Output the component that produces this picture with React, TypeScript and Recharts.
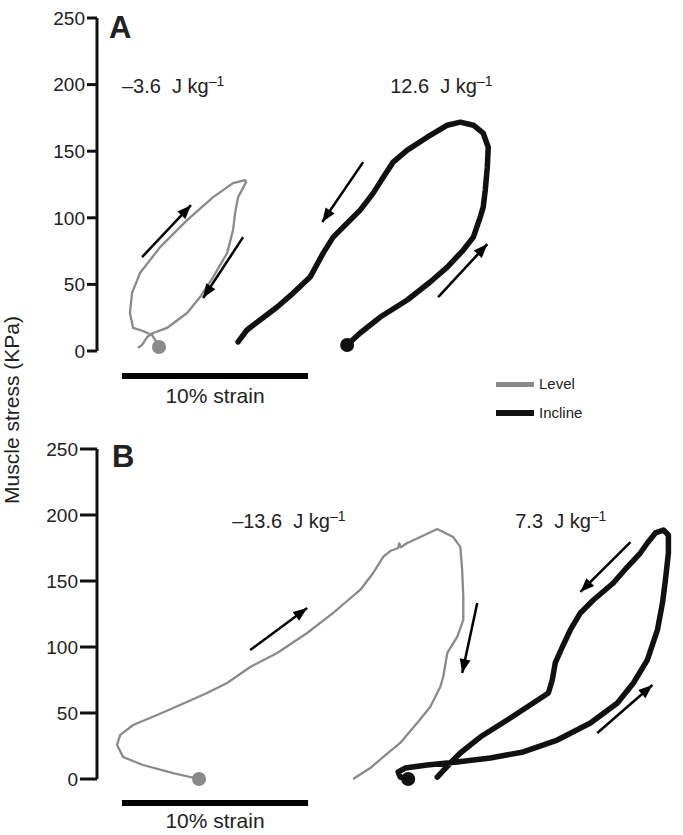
import React from 'react';
import { LineChart, Line, XAxis, YAxis, ReferenceLine, ReferenceDot } from 'recharts';

const font = '"Liberation Sans", Arial, Helvetica, sans-serif';
const levelColor = '#8a8a8a';
const inclineColor = '#111';

const yTicks = [0, 50, 100, 150, 200, 250];

// [strain %, stress kPa], traced from the start dot
const levelA = [
  [3.33, 3.0], [3.23, 6.0], [2.96, 12.0], [2.47, 15.0], [1.94, 17.3], [1.77, 28.5], [1.88, 43.5],
  [2.31, 58.5], [3.39, 78.0], [4.84, 98.3], [6.24, 115.5], [7.31, 126.0], [7.96, 128.3], [8.01, 126.8],
  [7.58, 115.5], [7.42, 103.5], [7.31, 90.8], [6.99, 73.5], [6.24, 55.5], [5.54, 40.5], [4.84, 28.5],
  [3.76, 17.3], [3.01, 13.5], [2.69, 10.5], [2.42, 4.5], [2.2, 2.3],
];

const inclineA = [
  [13.44, 4.5], [14.14, 13.5], [15.22, 25.5], [16.67, 38.3], [17.9, 51.8], [18.82, 63.0], [19.68, 75.8],
  [20.22, 85.5], [20.59, 100.5], [20.75, 108.0], [20.86, 120.8], [20.97, 138.0], [21.02, 153.0],
  [20.75, 163.5], [20.22, 169.5], [19.52, 171.8], [18.82, 169.5], [17.74, 160.5], [16.67, 150.8],
  [15.91, 141.8], [15.38, 130.5], [14.84, 118.5], [14.14, 105.8], [13.44, 96.0], [12.69, 85.5],
  [12.15, 73.5], [11.45, 55.5], [10.54, 43.5], [9.68, 33.0], [8.76, 23.3], [8.06, 15.8], [7.58, 6.8],
];

const levelB = [
  [5.48, 0], [4.09, 4.5], [2.47, 10.6], [1.4, 16.7], [1.08, 25.8], [1.24, 33.3], [1.94, 40.9],
  [3.23, 48.5], [4.46, 56.1], [5.91, 65.2], [6.99, 72.7], [8.23, 84.8], [9.68, 95.5], [11.29, 110.6],
  [12.69, 125.8], [13.06, 130.3], [14.14, 143.2], [14.84, 156.1], [15.38, 168.2], [15.75, 172.7],
  [16.18, 175.0], [16.24, 178.5], [16.32, 175.6], [16.67, 178.8], [17.37, 183.3], [18.28, 189.4],
  [19.14, 183.3], [19.52, 175.8], [19.62, 158.3], [19.68, 137.9], [19.68, 120.5], [19.35, 107.6],
  [18.82, 95.5], [18.6, 77.3], [18.44, 69.7], [17.9, 54.5], [17.2, 42.4], [16.29, 27.3], [15.38, 16.7],
  [14.68, 8.3], [13.76, 0],
];

const inclineB = [
  [16.72, 0], [16.29, 1.5], [16.18, 5.3], [16.56, 8.3], [17.74, 10.6], [19.35, 12.9], [21.13, 15.9],
  [22.9, 20.5], [24.73, 29.5], [26.51, 42.4], [27.96, 57.6], [28.82, 72.7], [29.57, 90.2], [30.11, 112.9],
  [30.38, 133.3], [30.54, 150.8], [30.7, 171.2], [30.7, 184.8], [30.43, 188.6], [30.0, 186.4],
  [29.57, 178.8], [29.19, 171.2], [28.49, 160.6], [27.74, 148.5], [26.67, 135.6], [25.97, 125.8],
  [25.43, 112.9], [25.0, 100.0], [24.62, 87.9], [24.46, 75.0], [24.25, 65.2], [23.44, 57.6],
  [22.04, 44.7], [20.59, 31.8], [19.52, 19.7], [18.98, 12.1], [18.28, 1.5],
];

// direction arrows: [tail, head]
const arrowsA = [
  [[2.42, 70.5], [5.05, 109.5]],
  [[7.85, 85.5], [5.7, 39.8]],
  [[14.3, 141.8], [12.1, 96.8]],
  [[18.33, 40.5], [20.97, 80.3]],
];
const arrowsB = [
  [[8.23, 97.7], [11.29, 129.5]],
  [[20.43, 133.3], [19.62, 80.3]],
  [[28.66, 179.5], [25.97, 141.7]],
  [[26.88, 34.8], [29.84, 71.2]],
];

const energyA = ['\u20133.6', '12.6'];
const energyAx = [1.34, 15.75];
const energyAy = 194;
const energyB = ['\u201313.6', '7.3'];
const energyBx = [7.26, 22.47];
const energyBy = 190;

const scaleBarX = [1.34, 11.34];
const scaleBarYA = -18.75;
const scaleBarYB = -18.2;

const legendItems = [
  { label: 'Level', color: levelColor, thick: 5 },
  { label: 'Incline', color: inclineColor, thick: 6 },
];

const toPts = (arr: number[][]) => arr.map(([x, y]) => ({ x, y }));

const ArrowHead = (props: any) => {
  const { cx, cy, index, points } = props;
  if (index !== 1 || !points) return <g key={`n-${index}`} />;
  const p0 = points[0];
  const ang = Math.atan2(cy - p0.y, cx - p0.x);
  const len = 14;
  const half = 5.5;
  const bx = cx - len * Math.cos(ang);
  const by = cy - len * Math.sin(ang);
  const nx = -Math.sin(ang) * half;
  const ny = Math.cos(ang) * half;
  return (
    <polygon
      key={`ah-${index}`}
      points={`${cx},${cy} ${bx + nx},${by + ny} ${bx - nx},${by - ny}`}
      fill="#000"
    />
  );
};

const EnergyText = ({ cx, cy, value }: any) => (
  <text x={cx} y={cy} fontSize={20} fill="#222" fontFamily={font}>
    {value}
    {'\u00a0\u00a0J kg'}
    <tspan dy={-7} fontSize={14}>{'\u20131'}</tspan>
  </text>
);

function Panel({
  level, incline, arrows, energy, energyX, energyY, barY, height, top, bottom, tickSize, barOffset,
}: any) {
  return (
    <LineChart width={683} height={height} margin={{ top, right: 9, bottom, left: 37 }}>
      <XAxis type="number" dataKey="x" domain={[0, 31]} hide />
      <YAxis
        type="number"
        domain={[0, 250]}
        ticks={yTicks}
        interval={0}
        width={60}
        tickSize={tickSize}
        axisLine={{ stroke: '#111', strokeWidth: 3 }}
        tickLine={{ stroke: '#111', strokeWidth: 3 }}
        tick={{ fontSize: 19, fill: '#222', fontFamily: font }}
      />
      <ReferenceLine
        segment={[{ x: scaleBarX[0], y: barY }, { x: scaleBarX[1], y: barY }]}
        stroke="#000"
        strokeWidth={6}
        ifOverflow="visible"
        label={{ value: '10% strain', position: 'bottom', offset: barOffset, fontSize: 21, fill: '#222', fontFamily: font }}
      />
      <Line data={toPts(level)} dataKey="y" type="linear" stroke={levelColor} strokeWidth={2.3}
        dot={false} isAnimationActive={false} strokeLinejoin="round" />
      <Line data={toPts(incline)} dataKey="y" type="linear" stroke={inclineColor} strokeWidth={5.5}
        dot={false} isAnimationActive={false} strokeLinejoin="round" strokeLinecap="round" />
      {arrows.map((a: number[][], i: number) => (
        <Line key={`arr-${i}`} data={toPts(a)} dataKey="y" type="linear" stroke="#000" strokeWidth={2.5}
          dot={ArrowHead} activeDot={false} isAnimationActive={false} />
      ))}
      <ReferenceDot x={level[0][0]} y={level[0][1]} r={7} fill={levelColor} stroke="none" />
      <ReferenceDot x={incline[0][0]} y={incline[0][1]} r={7} fill={inclineColor} stroke="none" />
      {energy.map((v: string, i: number) => (
        <ReferenceDot key={`en-${i}`} x={energyX[i]} y={energyY} r={1} ifOverflow="visible"
          shape={(p: any) => <EnergyText cx={p.cx} cy={p.cy} value={v} />} />
      ))}
    </LineChart>
  );
}

export default function App() {
  return (
    <div style={{ position: 'absolute', left: 0, top: 0, width: 683, height: 835, background: '#fff', fontFamily: font }}>
      <div style={{ position: 'absolute', left: 0, top: 0 }}>
        <Panel level={levelA} incline={inclineA} arrows={arrowsA} energy={energyA} energyX={energyAx}
          energyY={energyAy} barY={scaleBarYA} height={420} top={18} bottom={69} tickSize={10} barOffset={12} />
      </div>
      <div style={{ position: 'absolute', left: 0, top: 420 }}>
        <Panel level={levelB} incline={inclineB} arrows={arrowsB} energy={energyB} energyX={energyBx}
          energyY={energyBy} barY={scaleBarYB} height={415} top={29} bottom={56} tickSize={17} barOffset={10} />
      </div>
      <svg width={683} height={835} style={{ position: 'absolute', left: 0, top: 0, pointerEvents: 'none' }}>
        <text x={109} y={38} fontSize={31} fontWeight="bold" fill="#222" fontFamily={font}>A</text>
        <text x={112} y={467} fontSize={31} fontWeight="bold" fill="#222" fontFamily={font}>B</text>
        <text transform="translate(19,410) rotate(-90)" textAnchor="middle" fontSize={21} fill="#222" fontFamily={font}>
          Muscle stress (KPa)
        </text>
      </svg>
      {legendItems.map((it, i) => (
        <div key={it.label} style={{ position: 'absolute', left: 496, top: 376 + i * 29, height: 16, display: 'flex', alignItems: 'center' }}>
          <div style={{ width: 38, height: it.thick, background: it.color }} />
          <span style={{ marginLeft: 5, fontSize: 15, color: '#222', lineHeight: '16px' }}>{it.label}</span>
        </div>
      ))}
    </div>
  );
}
